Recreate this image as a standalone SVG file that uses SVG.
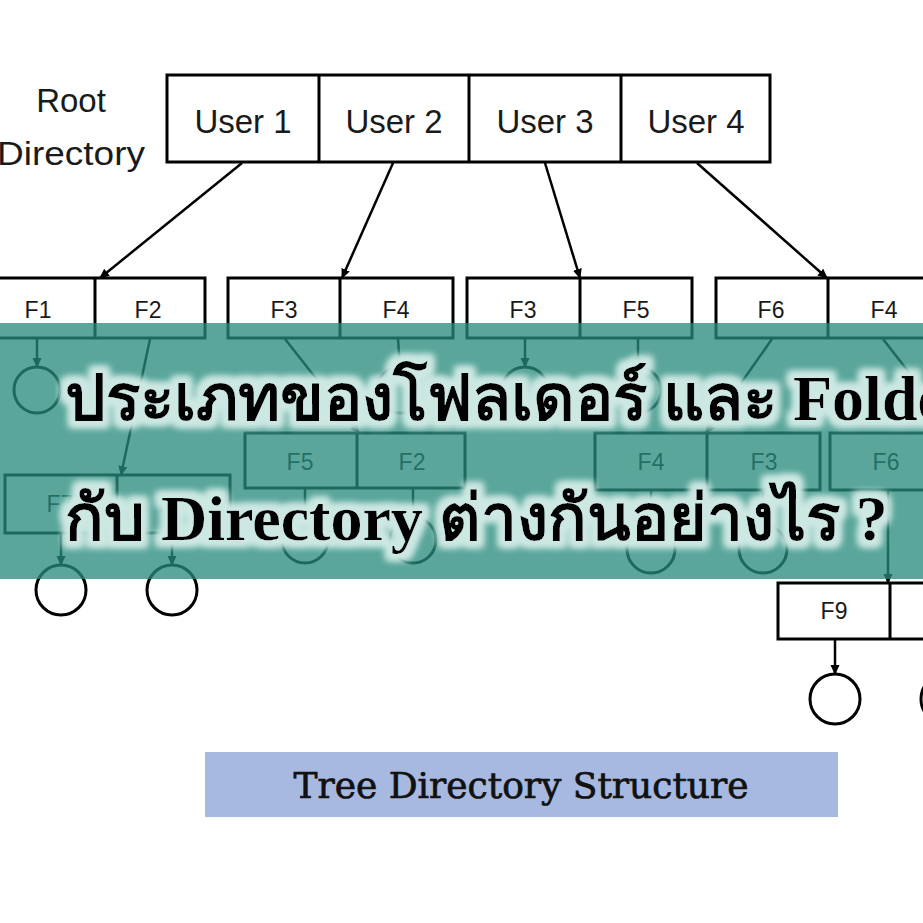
<svg xmlns="http://www.w3.org/2000/svg" width="923" height="923" viewBox="0 0 923 923">
<defs>
<style>
.box{fill:#fff;stroke:#000;stroke-width:3}
.div{stroke:#000;stroke-width:3}
.lbl{font-family:"Liberation Sans",Arial,sans-serif;fill:#1a1a1a;text-anchor:middle}
.u{font-size:33px}
.f{font-size:23px}
.con{stroke:#000;stroke-width:2.5;fill:none}
.arr{marker-end:url(#ah)}
.file{fill:none;stroke:#000;stroke-width:3}
.title{font-family:"Liberation Serif","Times New Roman",serif;font-weight:bold;font-size:64px;fill:#000}
</style>
<marker id="ah" markerUnits="userSpaceOnUse" markerWidth="10" markerHeight="10" refX="9" refY="5" orient="auto">
<path d="M0,0.5 L10,5 L0,9.5 z" fill="#000"/>
</marker>
<filter id="glow" x="-5%" y="-40%" width="110%" height="180%">
<feMorphology in="SourceAlpha" operator="dilate" radius="6" result="d"/>
<feGaussianBlur in="d" stdDeviation="3.5" result="b"/>
<feFlood flood-color="#cde8e3"/>
<feComposite in2="b" operator="in" result="g"/>
<feMerge><feMergeNode in="g"/><feMergeNode in="g"/><feMergeNode in="SourceGraphic"/></feMerge>
</filter>
</defs>
<rect width="923" height="923" fill="#fff"/>

<g id="root-label">
<text class="lbl u" x="71" y="112">Root</text>
<text class="lbl u" x="71" y="165" textLength="148" lengthAdjust="spacingAndGlyphs">Directory</text>
</g>

<g id="root">
<rect class="box" x="167" y="75" width="603" height="87"/>
<line class="div" x1="319" y1="75" x2="319" y2="162"/>
<line class="div" x1="469" y1="75" x2="469" y2="162"/>
<line class="div" x1="621" y1="75" x2="621" y2="162"/>
<text class="lbl u" x="243" y="133">User 1</text>
<text class="lbl u" x="394" y="133">User 2</text>
<text class="lbl u" x="545" y="133">User 3</text>
<text class="lbl u" x="696" y="133">User 4</text>
</g>

<g id="dir-user1">
<rect class="box" x="-15" y="278" width="220" height="60"/>
<line class="div" x1="95" y1="278" x2="95" y2="338"/>
<text class="lbl f" x="38" y="318">F1</text>
<text class="lbl f" x="148" y="318">F2</text>
</g>
<g id="dir-user2">
<rect class="box" x="228" y="278" width="225" height="60"/>
<line class="div" x1="340" y1="278" x2="340" y2="338"/>
<text class="lbl f" x="284" y="318">F3</text>
<text class="lbl f" x="396" y="318">F4</text>
</g>
<g id="dir-user3">
<rect class="box" x="467" y="278" width="225" height="60"/>
<line class="div" x1="580" y1="278" x2="580" y2="338"/>
<text class="lbl f" x="523" y="318">F3</text>
<text class="lbl f" x="636" y="318">F5</text>
</g>
<g id="dir-user4">
<rect class="box" x="716" y="278" width="225" height="60"/>
<line class="div" x1="828" y1="278" x2="828" y2="338"/>
<text class="lbl f" x="771" y="318">F6</text>
<text class="lbl f" x="884" y="318">F4</text>
</g>

<g id="dir-f2">
<rect class="box" x="5" y="475" width="225" height="58"/>
<line class="div" x1="117" y1="475" x2="117" y2="533"/>
<text class="lbl f" x="60" y="512">F7</text>
<text class="lbl f" x="172" y="512">F8</text>
</g>
<g id="dir-f3a">
<rect class="box" x="245" y="433" width="220" height="55"/>
<line class="div" x1="357" y1="433" x2="357" y2="488"/>
<text class="lbl f" x="300" y="470">F5</text>
<text class="lbl f" x="412" y="470">F2</text>
</g>
<g id="dir-f6">
<rect class="box" x="595" y="433" width="225" height="57"/>
<line class="div" x1="707" y1="433" x2="707" y2="490"/>
<text class="lbl f" x="651" y="470">F4</text>
<text class="lbl f" x="764" y="470">F3</text>
</g>
<g id="dir-f4">
<rect class="box" x="830" y="433" width="210" height="57"/>
<line class="div" x1="942" y1="433" x2="942" y2="490"/>
<text class="lbl f" x="886" y="470">F6</text>
</g>
<g id="dir-f6b">
<rect class="box" x="778" y="583" width="225" height="56"/>
<line class="div" x1="890" y1="583" x2="890" y2="639"/>
<text class="lbl f" x="834" y="619">F9</text>
</g>

<g id="files">
<circle class="file" cx="37" cy="390" r="23"/>
<circle class="file" cx="400" cy="390" r="23"/>
<circle class="file" cx="525" cy="390" r="23"/>
<circle class="file" cx="638" cy="390" r="23"/>
<circle class="file" cx="305" cy="540" r="23"/>
<circle class="file" cx="413" cy="540" r="23"/>
<circle class="file" cx="651" cy="549" r="24"/>
<circle class="file" cx="763" cy="549" r="24"/>
<circle class="file" cx="61" cy="590" r="25"/>
<circle class="file" cx="172" cy="590" r="25"/>
<circle class="file" cx="835" cy="699" r="25"/>
<circle class="file" cx="946" cy="699" r="25"/>
</g>

<g id="connectors">
<line class="con arr" x1="242" y1="163" x2="100" y2="278"/>
<line class="con arr" x1="393" y1="163" x2="342" y2="278"/>
<line class="con arr" x1="545" y1="163" x2="580" y2="278"/>
<line class="con arr" x1="697" y1="163" x2="827" y2="278"/>
<line class="con arr" x1="37" y1="339" x2="37" y2="367"/>
<line class="con arr" x1="150" y1="339" x2="121" y2="475"/>
<line class="con arr" x1="285" y1="339" x2="359" y2="433"/>
<line class="con arr" x1="398" y1="339" x2="400" y2="367"/>
<line class="con arr" x1="525" y1="339" x2="525" y2="367"/>
<line class="con arr" x1="638" y1="339" x2="638" y2="367"/>
<line class="con arr" x1="772" y1="339" x2="706" y2="433"/>
<line class="con arr" x1="883" y1="339" x2="956" y2="433"/>
<line class="con arr" x1="305" y1="489" x2="305" y2="517"/>
<line class="con arr" x1="413" y1="489" x2="413" y2="517"/>
<line class="con arr" x1="651" y1="491" x2="651" y2="525"/>
<line class="con arr" x1="763" y1="491" x2="763" y2="525"/>
<line class="con arr" x1="888" y1="491" x2="888" y2="583"/>
<line class="con arr" x1="61" y1="534" x2="61" y2="565"/>
<line class="con arr" x1="172" y1="534" x2="172" y2="565"/>
<line class="con arr" x1="835" y1="640" x2="835" y2="674"/>
<line class="con arr" x1="946" y1="640" x2="946" y2="674"/>
</g>

<g id="caption">
<rect x="205" y="752" width="633" height="65" fill="#a7b9e1"/>
<text x="521" y="798" text-anchor="middle" font-family="'DejaVu Serif',serif" font-size="35" fill="#111" stroke="#111" stroke-width="0.7" textLength="455" lengthAdjust="spacingAndGlyphs">Tree Directory Structure</text>
</g>

<g id="banner">
<rect x="0" y="323" width="923" height="256" fill="#268a7b" fill-opacity="0.76"/>
<g filter="url(#glow)">
<text class="title" x="65" y="420">ประเภทของโฟลเดอร์ และ Folder</text>
<text class="title" x="65" y="540">กับ Directory ต่างกันอย่างไร ?</text>
</g>
</g>
</svg>
